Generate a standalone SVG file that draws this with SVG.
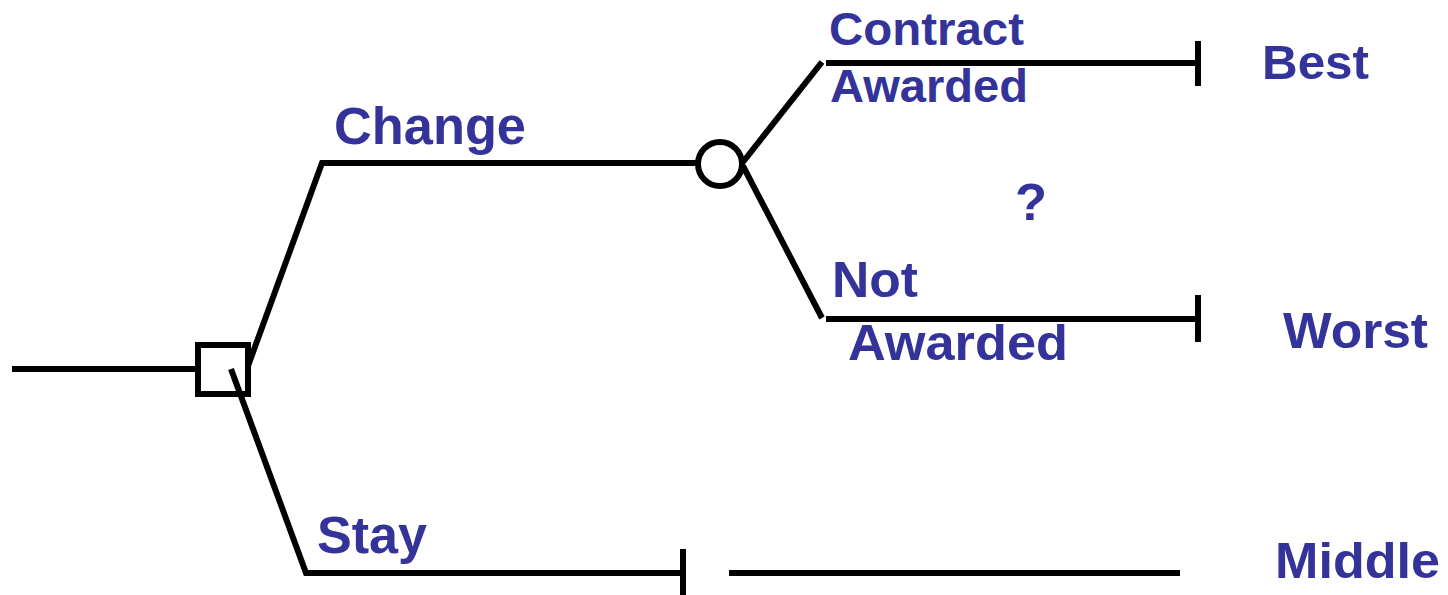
<svg xmlns="http://www.w3.org/2000/svg" width="1448" height="595" viewBox="0 0 1448 595">
  <style>
    .edge { stroke: #000; stroke-width: 6; fill: none; stroke-linecap: butt; }
    .node { stroke: #000; stroke-width: 6; fill: #fff; }
    .lbl { font-family: "Liberation Sans", Arial, sans-serif; font-weight: bold; fill: #333399; }
  </style>
  <rect width="1448" height="595" fill="#fff"/>

  <g id="decision">
    <rect class="node" x="198" y="345" width="50" height="49"/>
  </g>

  <g id="chance">
    <circle class="node" cx="720" cy="164" r="22"/>
  </g>

  <g id="connectors">
    <!-- root stem -->
    <line class="edge" x1="12" y1="369" x2="198" y2="369"/>
    <!-- Change branch -->
    <polyline class="edge" points="248,366 322,163 697,163"/>
    <!-- Stay branch (starts inside the decision box) -->
    <polyline class="edge" points="231,369 306,573 683,573"/>
    <line class="edge" x1="683" y1="549" x2="683" y2="595"/>
    <line class="edge" x1="729" y1="573" x2="1180" y2="573" stroke-linecap="round"/>
    <!-- Contract Awarded branch -->
    <line class="edge" x1="743" y1="162" x2="822" y2="62"/>
    <line class="edge" x1="826" y1="63" x2="1198" y2="63"/>
    <line class="edge" x1="1198" y1="41" x2="1198" y2="86"/>
    <!-- Not Awarded branch -->
    <line class="edge" x1="743" y1="166" x2="822" y2="318"/>
    <line class="edge" x1="826" y1="319" x2="1198" y2="319"/>
    <line class="edge" x1="1198" y1="295" x2="1198" y2="342"/>
  </g>

  <g id="labels">
    <text class="lbl" x="334" y="144" font-size="51" textLength="192" lengthAdjust="spacingAndGlyphs">Change</text>
    <text class="lbl" x="317" y="553" font-size="51" textLength="110" lengthAdjust="spacingAndGlyphs">Stay</text>
    <text class="lbl" x="829" y="45" font-size="46" textLength="195" lengthAdjust="spacingAndGlyphs">Contract</text>
    <text class="lbl" x="830" y="102" font-size="46" textLength="198" lengthAdjust="spacingAndGlyphs">Awarded</text>
    <text class="lbl" x="832" y="297" font-size="50" textLength="86" lengthAdjust="spacingAndGlyphs">Not</text>
    <text class="lbl" x="848" y="360" font-size="50" textLength="220" lengthAdjust="spacingAndGlyphs">Awarded</text>
    <text class="lbl" x="1015" y="220" font-size="52" textLength="32" lengthAdjust="spacingAndGlyphs">?</text>
    <text class="lbl" x="1262" y="79" font-size="49" textLength="107" lengthAdjust="spacingAndGlyphs">Best</text>
    <text class="lbl" x="1283" y="348" font-size="50" textLength="145" lengthAdjust="spacingAndGlyphs">Worst</text>
    <text class="lbl" x="1275" y="578" font-size="50" textLength="165" lengthAdjust="spacingAndGlyphs">Middle</text>
  </g>
</svg>
